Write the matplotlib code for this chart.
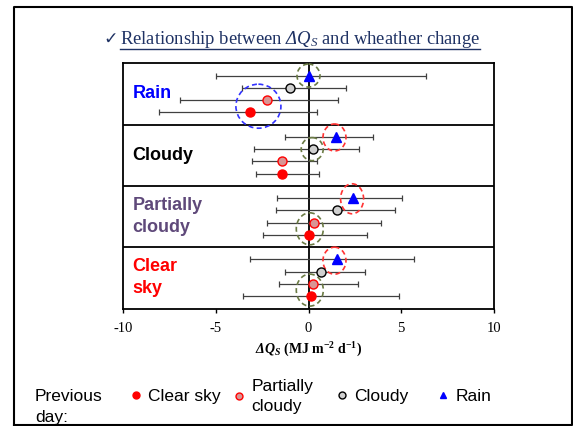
import matplotlib
matplotlib.use('Agg')
import matplotlib.pyplot as plt
from matplotlib.lines import Line2D
from matplotlib.patches import Ellipse

# panels (current day), top to bottom
panels = ['Rain', 'Cloudy', 'Partially\ncloudy', 'Clear\nsky']
panel_colors = ['#0000FF', '#000000', '#5F497A', '#FF0000']

# previous-day series, values per panel (Rain, Cloudy, Partially cloudy, Clear sky)
series = ['Clear sky', 'Partially\ncloudy', 'Cloudy', 'Rain']
rain_mean = [0.05, 1.49, 2.38, 1.52]
rain_lo = [-5.0, -1.25, -1.70, -3.17]
rain_hi = [6.36, 3.49, 5.02, 5.70]
cloudy_mean = [-0.98, 0.23, 1.52, 0.70]
cloudy_lo = [-3.56, -2.94, -1.74, -1.27]
cloudy_hi = [2.03, 2.71, 4.66, 3.05]
partly_mean = [-2.24, -1.41, 0.29, 0.23]
partly_lo = [-6.94, -3.03, -2.24, -1.60]
partly_hi = [1.58, 0.45, 3.91, 2.67]
clear_mean = [-3.17, -1.43, 0.05, 0.14]
clear_lo = [-8.05, -2.81, -2.45, -3.53]
clear_hi = [0.45, 0.59, 3.15, 4.86]

# highlight circles: (x, y, width px, height px, color)
highlights = [
    (0.0, 1.0, 23, 23, '#6B7B45'),
    (-2.7, 3.5, 45, 44, '#3333FF'),
    (1.4, 6.05, 23, 27, '#FF3333'),
    (0.2, 7.0, 22, 23, '#6B7B45'),
    (2.35, 11.05, 23, 30, '#FF3333'),
    (0.07, 13.5, 27, 32, '#6B7B45'),
    (1.4, 16.1, 23, 27, '#FF3333'),
    (0.07, 18.5, 27, 32, '#6B7B45'),
]

plt.rcParams['axes.unicode_minus'] = False
plt.rcParams['mathtext.fontset'] = 'custom'
plt.rcParams['mathtext.rm'] = 'Liberation Serif'
plt.rcParams['mathtext.it'] = 'Liberation Serif:italic'
plt.rcParams['mathtext.bf'] = 'Liberation Serif:bold'
plt.rcParams['mathtext.bfit'] = 'Liberation Serif:italic'          # italic incl. Greek capitals
plt.rcParams['mathtext.sf'] = 'Liberation Serif:italic:bold'
serif = ['Liberation Serif', 'DejaVu Serif']
sans = ['Liberation Sans', 'DejaVu Sans']

W, H = 573, 426
fig = plt.figure(figsize=(W / 100, H / 100), dpi=100)
ax = fig.add_axes([123 / W, 1 - 308.5 / H, 371 / W, 245.2 / H])

styles = [
    (clear_mean, clear_lo, clear_hi, 4, dict(marker='o', mfc='#FF0000', mec='#FF0000', ms=6.5)),
    (partly_mean, partly_lo, partly_hi, 3, dict(marker='o', mfc='#D99594', mec='#FF0000', ms=6.5, mew=1.0)),
    (cloudy_mean, cloudy_lo, cloudy_hi, 2, dict(marker='o', mfc='#D0D0D0', mec='#000000', ms=6.5, mew=1.0)),
    (rain_mean, rain_lo, rain_hi, 1, dict(marker='^', mfc='#0000FF', mec='#0000FF', ms=6.5)),
]

handles = []
for mean, lo, hi, row, st in styles:
    ys = [5 * i + row for i in range(len(panels))]
    xerr = [[m - l for m, l in zip(mean, lo)], [h - m for m, h in zip(mean, hi)]]
    ax.errorbar(mean, ys, xerr=xerr, fmt='none', ecolor='#404040', elinewidth=0.9,
                capsize=2, capthick=0.9, zorder=2)
    ax.plot(mean, ys, linestyle='none', zorder=4, **st)
    hst = dict(st)
    hst['ms'] = 5
    handles.append(Line2D([], [], linestyle='none', **hst))

ax.axvline(0, color='black', lw=1.3, zorder=1)
for yb in [5, 10, 15]:
    ax.axhline(yb, color='black', lw=1.3, zorder=1)

ax.set_xlim(-10, 10)
ax.set_ylim(20, 0)

# px per data unit for circles
pos = ax.get_position()
pxx = pos.width * W / 20
pxy = pos.height * H / 20
for x, y, w, h, c in highlights:
    ax.add_patch(Ellipse((x, y), w / pxx, h / pxy, fill=False, ec=c, lw=1.2,
                         ls=(0, (3, 2)), zorder=3))

for i, (lab, col) in enumerate(zip(panels, panel_colors)):
    ax.text(-9.48, 5 * i + 2.5, lab, color=col, fontsize=13, fontweight='bold',
            family=sans, va='center', ha='left', linespacing=1.4)

ax.set_yticks([])
ax.set_xticks([-10, -5, 0, 5, 10])
ax.tick_params(axis='x', direction='out', length=3, width=1, labelsize=10.5, pad=7)
for t in ax.get_xticklabels():
    t.set_family(serif)
for s in ax.spines.values():
    s.set_linewidth(1.3)
ax.set_xlabel(r'$\mathsf{\Delta Q_S}$ (MJ m$^{\mathbf{-2}}$ d$^{\mathbf{-1}}$)',
              family=serif, fontsize=10, fontweight='bold', labelpad=4)

# title with check mark and underline
fig.text(103 / W, 1 - 44 / H, '\u2713', family=['DejaVu Sans'], fontsize=12.5,
         color='#1F3264', va='baseline', ha='left')
title = fig.text(120 / W, 1 - 44.5 / H,
                 r'Relationship between $\mathbfit{\Delta Q_S}$ and wheather change',
                 family=serif, fontsize=13.4, color='#1F3264', va='baseline', ha='left')
fig.canvas.draw()
bb = title.get_window_extent().transformed(fig.transFigure.inverted())
fig.add_artist(Line2D([bb.x0, bb.x1], [1 - 49.3 / H] * 2, transform=fig.transFigure,
                      color='#1F3264', lw=1))

# legend: one entry per slot
fig.text(35 / W, 1 - 407 / H, 'Previous\nday:', family=sans, fontsize=12.5,
         va='center', ha='left', linespacing=1.5)
slot_x = [136, 239, 342, 443]
for h, lab, sx in zip(handles, series, slot_x):
    leg = fig.legend([h], [lab], loc='center left',
                     bbox_to_anchor=((sx - 5.2) / W, 1 - 396.5 / H),
                     frameon=False, prop={'family': sans, 'size': 12.5},
                     handlelength=0.6, handletextpad=0.4, borderpad=0, borderaxespad=0)
    for t in leg.get_texts():
        t.set_linespacing(1.4)

# figure border
fig.add_artist(Line2D([13.5 / W, 13.5 / W, 571.5 / W, 571.5 / W, 13.5 / W],
                      [1 - 424.5 / H, 1 - 7 / H, 1 - 7 / H, 1 - 424.5 / H, 1 - 424.5 / H],
                      transform=fig.transFigure, color='black', lw=1.5))

fig.savefig('out.png', dpi=100)
